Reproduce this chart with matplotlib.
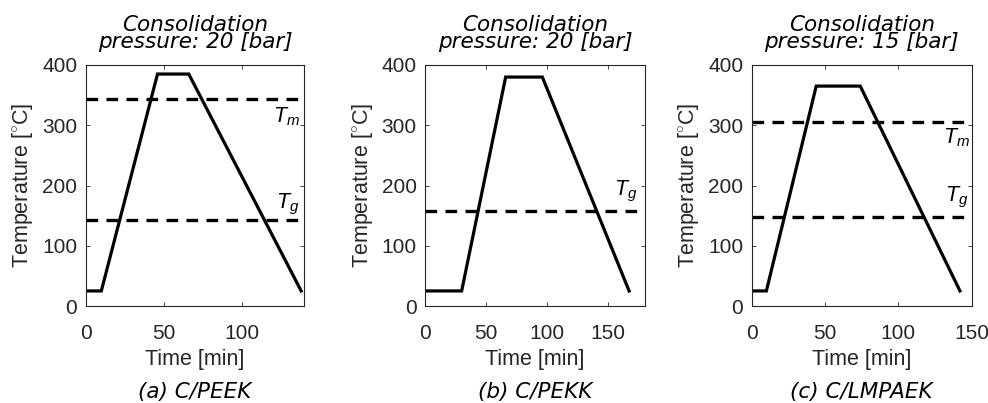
import numpy as np
import matplotlib
matplotlib.use('Agg')
import matplotlib.pyplot as plt

# cure cycles, time [min] vs temperature [C]
peek_time = [0, 10, 46, 66, 138]
peek_temp = [25, 25, 385, 385, 25]
pekk_time = [0, 30, 66, 96, 167]
pekk_temp = [25, 25, 380, 380, 25]
lmpaek_time = [0, 10, 44, 74, 142]
lmpaek_temp = [25, 25, 365, 365, 25]

# melt / glass transition temperatures (None = not drawn)
tm_values = [343, None, 305]
tg_values = [143, 158, 147]

pressures = [20, 20, 15]
captions = ['(a) C/PEEK', '(b) C/PEKK', '(c) C/LMPAEK']
xlims = [140, 180, 150]
xticks = [[0, 50, 100], [0, 50, 100, 150], [0, 50, 100, 150]]

# label positions in data coords (x, y baseline)
tm_label_pos = [(120, 305), None, (130.5, 270)]
tg_label_pos = [(122, 162), (154.7, 184), (132, 173)]

plt.rcParams['mathtext.fontset'] = 'custom'
plt.rcParams['mathtext.rm'] = 'Liberation Sans'
plt.rcParams['mathtext.it'] = 'Liberation Sans:italic'

fig = plt.figure(figsize=(9.88, 4.03), dpi=100)

lefts = [85.7, 425, 751.7]
rights = [304.3, 645, 971.7]
top_px, bottom_px = 65, 306
W, H = 988, 403

times = [peek_time, pekk_time, lmpaek_time]
temps = [peek_temp, pekk_temp, lmpaek_temp]
axcol = '#262626'

for i in range(3):
    ax = fig.add_axes([lefts[i] / W, (H - bottom_px) / H,
                       (rights[i] - lefts[i]) / W, (bottom_px - top_px) / H])
    ax.plot(times[i], temps[i], color='black', linewidth=2.3, solid_joinstyle='miter')
    if tm_values[i] is not None:
        ax.axhline(tm_values[i], color='black', linewidth=2.4, dashes=(3.5, 2.5))
        ax.text(tm_label_pos[i][0], tm_label_pos[i][1], '$T_m$', fontsize=15.5,
                ha='left', va='baseline')
    ax.axhline(tg_values[i], color='black', linewidth=2.4, dashes=(3.5, 2.5))
    ax.text(tg_label_pos[i][0], tg_label_pos[i][1], '$T_g$', fontsize=15.5,
            ha='left', va='baseline')

    ax.set_xlim(0, xlims[i])
    ax.set_ylim(0, 400)
    ax.set_xticks(xticks[i])
    ax.set_yticks([0, 100, 200, 300, 400])
    ax.tick_params(direction='in', length=3, width=0.6, color=axcol,
                   top=True, right=True, labelsize=15, labelcolor=axcol)
    ax.tick_params(axis='x', pad=13)
    ax.tick_params(axis='y', pad=6)
    for lab in ax.get_xticklabels() + ax.get_yticklabels():
        lab.set_fontfamily('Liberation Sans')
    for s in ax.spines.values():
        s.set_color(axcol)
        s.set_linewidth(0.8)

    ax.set_xlabel('Time [min]', fontsize=15.5, family='Liberation Sans',
                  color=axcol, labelpad=4)
    ax.set_ylabel('Temperature [$^{\\circ}$C]', fontsize=15.5,
                  family='Liberation Sans', color=axcol, labelpad=5)
    ax.set_title('Consolidation\npressure: %d [bar]' % pressures[i],
                 fontsize=15.5, family='DejaVu Sans', style='italic',
                 linespacing=0.85, pad=12)

    cx = (lefts[i] + rights[i]) / 2 / W
    fig.text(cx, 5 / H, captions[i], fontsize=15.5, family='DejaVu Sans',
             style='italic', ha='center', va='baseline')

fig.savefig('out.png', dpi=100)
